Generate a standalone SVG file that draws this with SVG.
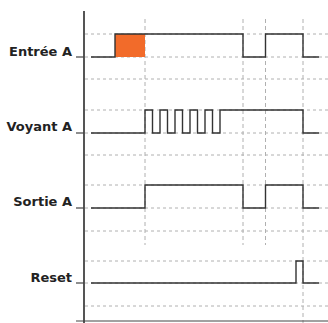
<svg xmlns="http://www.w3.org/2000/svg" width="328" height="323" viewBox="0 0 328 323">
<style>
.grid{stroke:#b0b0b0;stroke-width:1;stroke-dasharray:3,3;fill:none}
.vgrid{stroke:#b0b0b0;stroke-width:1;stroke-dasharray:4,3;fill:none}
.sig{stroke:#333;stroke-width:1.4;fill:none}
.axis{stroke:#555;stroke-width:2;fill:none}
.tick{stroke:#444;stroke-width:1.2;fill:none}
.lbl{font-family:"DejaVu Sans",Verdana,sans-serif;font-weight:bold;font-size:13px;fill:#222;text-anchor:end}
</style>
<rect width="328" height="323" fill="#fff"/>
<g id="grid">
<path class="grid" d="M85,34H328M85,57H328M85,79H328M85,110H328M85,133H328M85,155H328M85,185H328M85,208H328M85,231H328M85,261H328M85,283H328M85,306H328"/>
<path class="vgrid" d="M145,19V245M243,19V245M265.5,19V245M303,19V323"/>
</g>
<g id="axis">
<path class="axis" d="M84,11V323"/>
<path class="tick" d="M76,321H328"/>
</g>
<g id="entree-a">
<rect x="115" y="34" width="30" height="23" fill="#f26b2a"/>
<path class="tick" d="M76,57H84"/>
<text class="lbl" x="72" y="55.5">Entrée A</text>
</g>
<g id="voyant-a">
<path class="tick" d="M76,133H84"/>
<text class="lbl" x="72" y="131">Voyant A</text>
</g>
<g id="sortie-a">
<path class="tick" d="M76,208H84"/>
<text class="lbl" x="72" y="205.5">Sortie A</text>
</g>
<g id="reset">
<path class="tick" d="M76,283H84"/>
<text class="lbl" x="72" y="282">Reset</text>
</g>
<g id="connectors">
<path class="sig" d="M91,57H115V34H243V57H265.5V34H303V57H319"/>
<path class="sig" d="M91,133H145V110H152.5V133H160V110H167.5V133H175V110H182.5V133H190V110H197.5V133H205V110H212.5V133H220V110H303V133H319"/>
<path class="sig" d="M91,208H145V185H243V208H265.5V185H303V208H319"/>
<path class="sig" d="M91,283H296V261H303V283H319"/>
</g>
</svg>
